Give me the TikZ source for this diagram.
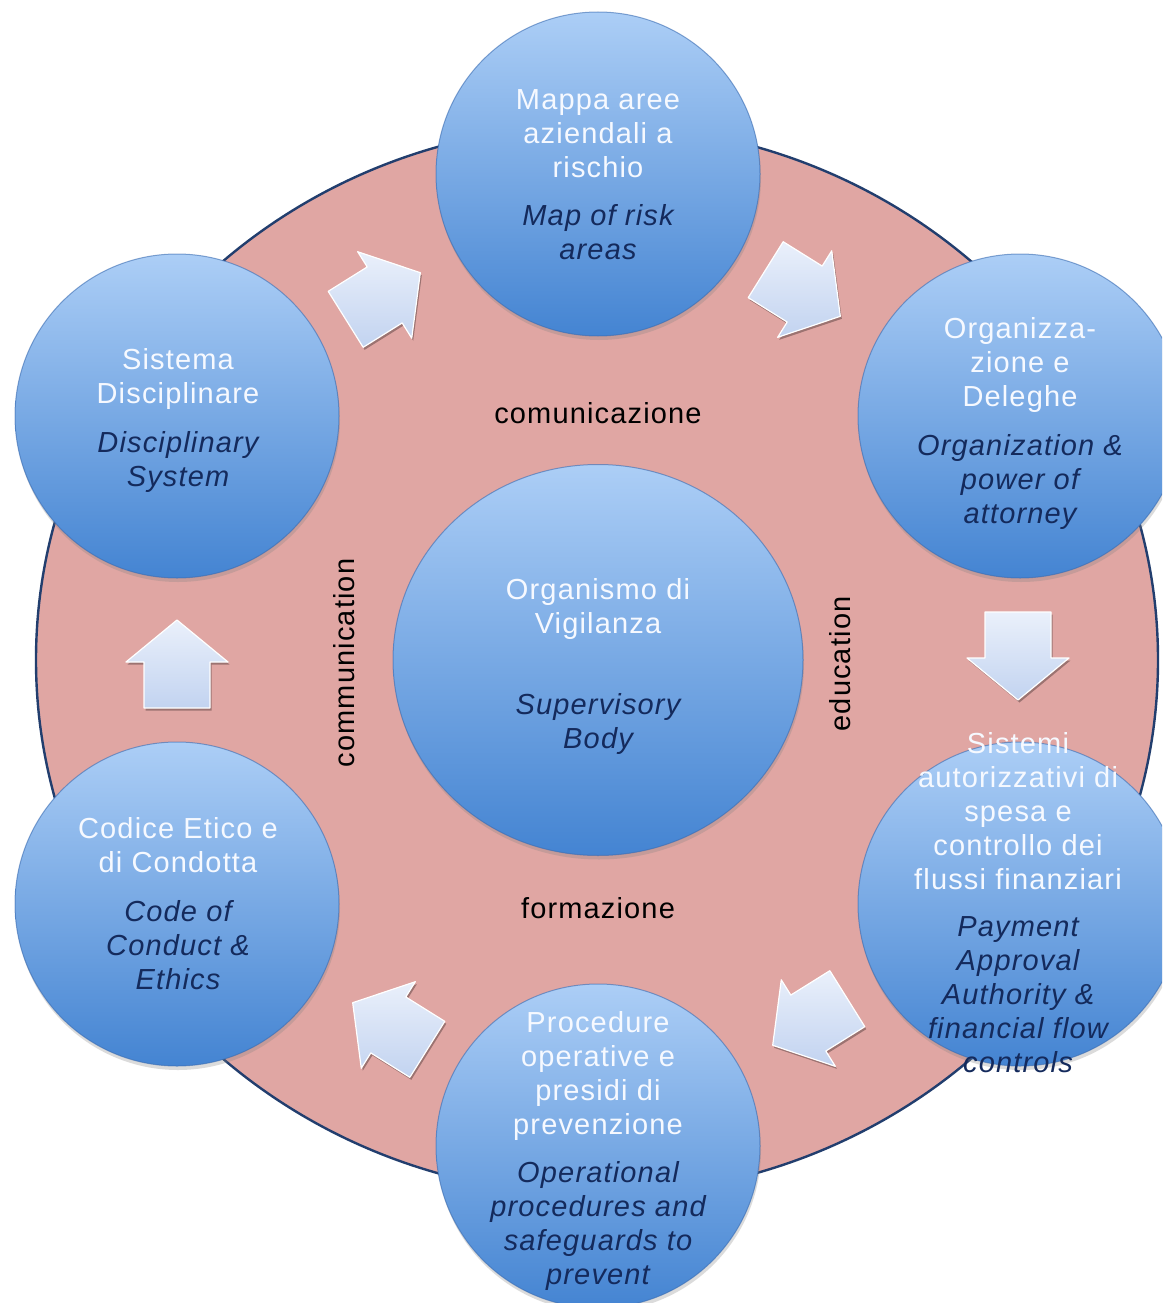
\documentclass[tikz,border=0pt]{standalone}
\usepackage{fontspec}
\setmainfont{Liberation Sans}[LetterSpace=4]
\usetikzlibrary{shadows,shapes.geometric}
\definecolor{pinkfill}{RGB}{224,166,163}
\definecolor{ringline}{RGB}{34,62,110}
\definecolor{ctop}{RGB}{172,206,246}
\definecolor{cbot}{RGB}{68,132,210}
\definecolor{cedge}{RGB}{58,108,178}
\definecolor{entext}{RGB}{20,42,92}
\definecolor{ittext}{RGB}{246,249,255}
\definecolor{atop}{RGB}{234,240,251}
\definecolor{abot}{RGB}{194,211,240}
\newcommand\blkarrow[3]{%
  \fill[black,opacity=0.3,shift={(#1+1.5,#2+2.5)},rotate=#3]
    (-44,-33) -- (2,-33) -- (2,-51) -- (44,0) -- (2,51) -- (2,33) -- (-44,33) -- cycle;
  \shade[top color=atop,bottom color=abot,draw=white,line width=1.2pt,line join=round,shift={(#1,#2)},rotate=#3]
    (-44,-33) -- (2,-33) -- (2,-51) -- (44,0) -- (2,51) -- (2,33) -- (-44,33) -- cycle;
}
\begin{document}
\begin{tikzpicture}[x=1pt,y=-1pt,
  bub/.style={circle,minimum size=324pt,inner sep=0pt,top color=ctop,bottom color=cbot,
    draw=cedge,draw opacity=0.6,line width=1pt,
    drop shadow={opacity=0.28,shadow xshift=1pt,shadow yshift=-4pt}},
  hub/.style={ellipse,minimum width=410pt,minimum height=391pt,inner sep=0pt,top color=ctop,bottom color=cbot,
    draw=cedge,draw opacity=0.6,line width=1pt,
    drop shadow={opacity=0.28,shadow xshift=1pt,shadow yshift=-4pt}},
  it/.style={text=ittext,align=center,inner sep=0pt,font=\fontsize{29}{34}\selectfont,
    execute at begin node=\vphantom{Ag},execute at end node=\vphantom{Ag}},
  en/.style={text=entext,align=center,inner sep=0pt,font=\fontsize{29}{34}\selectfont\itshape,
    execute at begin node=\vphantom{Ag},execute at end node=\vphantom{Ag}},
  lab/.style={text=black,inner sep=0pt,font=\fontsize{29}{34}\selectfont,
    execute at begin node=\vphantom{Ag}}]
\useasboundingbox (0,0) rectangle (1162,1303);
\clip (0,0) rectangle (1162,1303);
\fill[white] (0,0) rectangle (1162,1303);
% ring
\draw[ringline,line width=2.4pt,fill=pinkfill] (597,660) ellipse [x radius=561pt,y radius=535pt];
% arrows
\blkarrow{383}{296}{32}
\blkarrow{803}{293}{-32}
\blkarrow{1018}{656}{-90}
\blkarrow{810}{1022}{212}
\blkarrow{390}{1026}{148}
\blkarrow{177}{664}{90}
% circles
\node[hub] (hub) at (598,660) {};
\node[bub] (c1) at (598,174) {};
\node[bub] (c2) at (1020,416) {};
\node[bub] (c3) at (1020,904) {};
\node[bub] (c4) at (598,1146) {};
\node[bub] (c5) at (177,904) {};
\node[bub] (c6) at (177,416) {};
\begin{scope}[shift={(0,3)}]
% labels on ring
\node[lab] (l1) at (598,413) {comunicazione};
\node[lab] (l2) at (598,908) {formazione};
\node[lab,rotate=90] (l3) at (347,660) {communication};
\node[lab,rotate=90] (l4) at (843,661) {education};
% texts
\node[it] (h1) at (598,606) {\fontsize{29}{38}\selectfont Organismo di\\Vigilanza};
\node[en] (h2) at (598,721) {\fontsize{29}{38}\selectfont Supervisory\\Body};
\node[it] (a1) at (598,134) {Mappa aree\\aziendali a\\rischio};
\node[en] (a2) at (598,232.5) {Map of risk\\areas};
\node[it] (b1) at (1020,362) {Organizza-\\zione e\\Deleghe};
\node[en] (b2) at (1020,478.5) {Organization \&\\power of\\attorney};
\node[it] (d1) at (1018,811) {Sistemi\\autorizzativi di\\spesa e\\controllo dei\\flussi finanziari};
\node[en] (d2) at (1018,995) {Payment\\Approval\\Authority \&\\financial flow\\controls};
\node[it] (e1) at (598,1073) {Procedure\\operative e\\presidi di\\prevenzione};
\node[en] (e2) at (598,1223) {Operational\\procedures and\\safeguards to\\prevent};
\node[it] (f1) at (178,845) {Codice Etico e\\di Condotta};
\node[en] (f2) at (178,944.5) {Code of\\Conduct \&\\Ethics};
\node[it] (g1) at (178,375.5) {Sistema\\Disciplinare};
\node[en] (g2) at (178,458.5) {Disciplinary\\System};
\end{scope}
\end{tikzpicture}
\end{document}
